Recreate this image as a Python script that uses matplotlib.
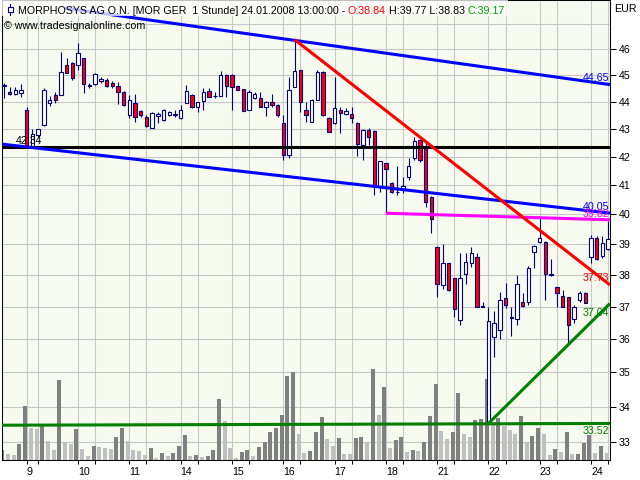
import numpy as np
import matplotlib.pyplot as plt
import matplotlib.transforms as mtransforms
from matplotlib.patches import Rectangle
from matplotlib.lines import Line2D
from matplotlib.ticker import FixedLocator, FixedFormatter, NullLocator, NullFormatter

plt.rcParams['font.family'] = ['Liberation Sans', 'DejaVu Sans']
FS = 7.7

# MorphoSys hourly bars, 08.01.2008 14:00 .. 24.01.2008 13:00 (one line per day)
opens = [44.58, 44.38, 44.30, 44.33,
         43.69, 42.38, 42.78, 43.13, 43.96, 44.25, 44.25, 45.38, 45.47,
         45.38, 45.64, 44.58, 44.66, 44.76, 44.81, 44.71, 44.59, 44.38,
         43.49, 43.94, 43.66, 43.45, 43.02, 43.46, 43.31, 43.52, 43.52,
         43.38, 43.96, 44.25, 43.79, 44.03, 44.40, 44.22, 44.22, 45.00,
         45.00, 44.59, 44.46, 43.71, 44.12, 44.12, 43.79, 44.00, 43.87,
         43.20, 42.06, 44.56, 45.19, 43.69, 43.26, 44.08, 45.13, 43.40,
         43.20, 43.71, 43.53, 43.56, 43.22, 42.41, 42.96, 42.93, 40.95,
         41.76, 41.08, 40.78, 40.86, 41.27, 41.94, 42.60, 42.36, 40.60,
         38.92, 37.69, 38.38, 37.90, 36.59, 38.04, 38.38, 38.60, 37.02,
         33.55, 36.07, 36.27, 37.26, 36.69, 36.61, 37.14, 37.14, 38.74,
         39.09, 39.09, 38.02, 37.61, 37.33, 37.29, 36.61, 37.20, 37.42,
         38.60, 39.20, 38.62, 38.84]
highs = [44.69, 44.56, 44.56, 44.65,
         43.81, 42.98, 43.00, 44.50, 44.21, 44.37, 45.90, 45.64, 45.52,
         46.22, 45.66, 44.71, 45.09, 44.94, 44.88, 44.79, 44.75, 44.40,
         44.25, 44.28, 43.69, 43.50, 43.62, 43.63, 43.72, 43.64, 43.69,
         43.88, 44.62, 44.27, 44.00, 44.50, 44.53, 44.37, 45.16, 45.06,
         45.06, 44.60, 44.48, 44.42, 44.37, 44.37, 44.02, 44.27, 43.90,
         43.50, 44.94, 46.35, 45.20, 44.00, 44.10, 45.19, 45.15, 43.45,
         44.94, 43.79, 43.75, 43.79, 43.26, 42.98, 43.02, 42.96, 41.85,
         41.78, 41.12, 41.67, 41.29, 41.94, 42.72, 42.62, 42.50, 40.62,
         38.95, 39.01, 38.40, 37.92, 38.73, 38.73, 38.92, 38.73, 37.15,
         37.00, 36.87, 37.47, 37.76, 37.00, 38.00, 37.42, 38.30, 38.97,
         39.87, 39.10, 38.51, 37.62, 37.53, 37.30, 37.05, 37.50, 37.45,
         39.31, 39.27, 39.27, 39.77]
lows = [44.12, 44.25, 44.25, 44.18,
        42.31, 42.30, 42.70, 43.10, 43.84, 43.94, 44.25, 45.07, 44.82,
        45.19, 44.34, 44.50, 44.64, 44.69, 44.56, 44.50, 43.90, 43.85,
        43.38, 43.26, 43.45, 43.05, 43.02, 43.20, 43.28, 43.48, 43.45,
        43.36, 43.95, 43.78, 43.63, 43.69, 44.16, 44.12, 44.20, 44.18,
        43.69, 44.42, 43.64, 43.69, 44.10, 43.79, 43.47, 43.79, 43.45,
        41.90, 41.94, 44.54, 43.63, 43.26, 43.24, 44.06, 43.46, 42.88,
        43.18, 42.86, 43.50, 43.22, 42.02, 41.88, 42.42, 40.66, 40.77,
        40.05, 40.73, 40.66, 40.74, 41.18, 41.90, 41.80, 40.26, 39.37,
        37.29, 37.55, 37.50, 36.69, 36.43, 37.72, 38.25, 36.99, 36.98,
        33.52, 35.47, 36.00, 36.96, 36.10, 36.43, 37.00, 37.05, 38.22,
        39.05, 37.20, 37.97, 37.00, 37.00, 35.87, 36.50, 37.15, 37.10,
        38.40, 38.50, 38.54, 38.83]
closes = [44.63, 44.28, 44.42, 44.43,
          42.36, 42.80, 42.98, 44.43, 44.08, 44.06, 45.13, 45.09, 44.88,
          45.83, 44.66, 44.64, 45.03, 44.85, 44.60, 44.59, 44.38, 43.87,
          44.06, 43.45, 43.50, 43.10, 43.58, 43.56, 43.69, 43.60, 43.53,
          43.69, 44.40, 43.81, 43.98, 44.38, 44.18, 44.20, 45.00, 44.60,
          44.54, 44.43, 43.66, 44.38, 44.28, 43.81, 44.00, 43.87, 43.50,
          42.06, 44.43, 45.15, 44.00, 43.50, 44.08, 45.13, 43.50, 42.90,
          43.75, 43.59, 43.66, 43.38, 42.45, 42.96, 42.69, 40.95, 41.85,
          41.55, 40.77, 40.76, 40.97, 41.67, 42.57, 41.88, 40.41, 39.83,
          37.71, 38.38, 37.53, 36.93, 37.90, 38.43, 38.73, 37.00, 37.00,
          36.56, 36.48, 37.20, 37.05, 36.64, 37.71, 37.02, 38.22, 38.95,
          39.22, 38.04, 38.00, 37.42, 37.00, 36.43, 36.98, 37.42, 37.10,
          39.20, 38.51, 39.05, 39.17]
volumes = [10, 6, 5, 16,
           54, 32, 31, 34, 19, 10, 80, 18, 16,
           31, 11, 4, 14, 13, 12, 11, 23, 32,
           19, 10, 9, 5, 12, 2, 7, 4, 7,
           14, 25, 4, 5, 3, 4, 10, 61, 39,
           12, 2, 8, 10, 4, 13, 18, 28, 32,
           45, 84, 88, 26, 7, 9, 28, 43, 21,
           14, 22, 6, 6, 22, 23, 17, 91, 45,
           73, 12, 20, 23, 8, 10, 9, 18, 44,
           76, 29, 21, 28, 67, 26, 23, 40, 41,
           81, 38, 42, 34, 30, 26, 44, 18, 24,
           32, 26, 5, 11, 8, 28, 6, 6.5, 17,
           25, 7, 14, 7]
VOL_TOP = 460  # volume value at the top of the panel

day_labels = ['9', '10', '11', '14', '15', '16', '17', '18', '21', '22', '23', '24']
day_start = [4, 13, 22, 31, 40, 49, 58, 67, 76, 85, 94, 103]
midday = [6, 16, 25, 34, 43, 52, 61, 70, 79, 88, 97, 106]
price_ticks = list(range(33, 47))

# trendlines: anchor points (bar, price)
upper_blue = [(10.7, 47.62), (106, 44.65)]
lower_blue = [(-0.39, 42.45), (106, 40.05)]
red_line = [(51, 46.37), (106, 37.73)]
magenta_line = [(67, 40.04), (106, 39.82)]
black_level = 42.34
green_flat = [(-0.39, 33.47), (106, 33.52)]
green_up = [(85, 33.52), (106, 37.04)]

XL, XR = -0.39, 106.33
BG = '#f7faee'
GRID = '#c8c8c8'
NAVY = '#000080'

fig = plt.figure(figsize=(6.4, 4.8), dpi=100)
ax = fig.add_axes([1.7 / 640, 20 / 480, 608.3 / 640, 460 / 480])
ax.set_facecolor(BG)
ax.set_yscale('log')

# grid
for p in range(33, 48):
    ax.axhline(p, color=GRID, lw=0.8, zorder=0.5)
for d in day_start + midday:
    ax.axvline(d, color=GRID, lw=0.8, zorder=0.5)

x = np.arange(len(closes))

# volume: dark when higher than the bar before
vol = np.array(volumes, float)
prev = np.concatenate([[-1.0], vol[:-1]])
vcol = np.where(vol > prev, '#808080', '#c0c0c0')
ax.vlines(x - 0.28, 0, vol / VOL_TOP, colors=vcol, lw=2.9,
          transform=ax.get_xaxis_transform(), zorder=1, capstyle='butt')

# candles
o = np.array(opens)
c = np.array(closes)
ax.vlines(x, lows, highs, color=NAVY, lw=0.8, zorder=2)
ax.bar(x, np.abs(c - o), bottom=np.minimum(o, c), width=0.6,
       color=np.where(c >= o, 'white', 'red'), edgecolor=NAVY, linewidth=0.8, zorder=3)


def trend(pts, xa, xb):
    (x0, p0), (x1, p1) = pts
    k = np.log(p1 / p0) / (x1 - x0)
    xs = np.array([xa, xb])
    return xs, p0 * np.exp(k * (xs - x0))


lines = [(upper_blue, upper_blue[0][0], 'blue', 'above'),
         (lower_blue, XL, 'blue', 'above'),
         (magenta_line, magenta_line[0][0], 'magenta', 'above'),
         (red_line, red_line[0][0], 'red', 'above'),
         (green_flat, XL, 'green', 'below'),
         (green_up, green_up[0][0], 'green', 'below')]

ax.plot([XL, XR], [black_level, black_level], color='black', lw=2.2, zorder=4)
ax.annotate(f'{black_level:.2f}', (2.1, black_level), xytext=(0, 3),
            textcoords='offset pixels', ha='left', va='baseline', fontsize=FS, zorder=5)

for pts, start, col, side in lines:
    xs, ps = trend(pts, start, XR)
    ax.plot(xs, ps, color=col, lw=2.2, zorder=4, solid_capstyle='butt')
    end_val = pts[1][1]
    if side == 'above':
        ax.annotate(f'{end_val:.2f}', (pts[1][0], end_val), xytext=(1, 3),
                    textcoords='offset pixels', ha='right', va='baseline',
                    color=col, fontsize=FS, zorder=5)
    else:
        ax.annotate(f'{end_val:.2f}', (pts[1][0], end_val), xytext=(1, -3),
                    textcoords='offset pixels', ha='right', va='top',
                    color=col, fontsize=FS, zorder=5)

# axes
ax.set_xlim(XL, XR)
ax.set_ylim(32.5, 47.95)
ax.yaxis.tick_right()
ax.yaxis.set_major_locator(FixedLocator(price_ticks))
ax.yaxis.set_major_formatter(FixedFormatter([str(v) for v in price_ticks]))
ax.yaxis.set_minor_locator(NullLocator())
ax.yaxis.set_minor_formatter(NullFormatter())
ax.tick_params(axis='y', which='major', length=4, width=0.75, pad=2.5, labelsize=FS)
ax.set_xticks(day_start)
ax.set_xticklabels(day_labels, ha='left')
ax.set_xticks(midday, minor=True)
ax.tick_params(axis='x', which='both', length=3, width=0.75, pad=2, labelsize=FS)
for sp in ax.spines.values():
    sp.set_linewidth(0.75)

# header
r = fig.canvas.get_renderer()
ident = mtransforms.IdentityTransform()


def text_width(s):
    t = fig.text(0, 0, s, transform=ident, fontsize=FS)
    w = t.get_window_extent(r).width
    t.remove()
    return w


space_w = text_width('M M') - text_width('MM')
title_parts = [('MORPHOSYS AG O.N. [MOR GER  1 Stunde] 24.01.2008 13:00:00 -', 'black'),
               ('O:38.84', 'red'),
               ('H:39.77 L:38.83', 'black'),
               ('C:39.17', '#00a000')]
xpos = 17.7
for s, col in title_parts:
    t = fig.text(xpos, 466, s, color=col, transform=ident, va='baseline', fontsize=FS, zorder=4)
    xpos = t.get_window_extent(r).x1 + space_w
fig.add_artist(Rectangle((0, 464.5), xpos - space_w + 3, 16, transform=ident,
                         facecolor='white', alpha=0.75, edgecolor='none', zorder=2))
fig.add_artist(Line2D([10.3, 10.3], [465, 476], transform=ident, color=NAVY, lw=0.8, zorder=3))
fig.add_artist(Rectangle((8.3, 467.7), 4.2, 5.6, transform=ident, facecolor='white',
                         edgecolor=NAVY, lw=0.8, zorder=3.5))
fig.text(4, 451, '\u00a9 www.tradesignalonline.com', transform=ident, va='baseline', fontsize=FS)
fig.text(614, 467.5, 'EUR', transform=ident, va='baseline', fontsize=FS)

fig.savefig('out.png', dpi=100, facecolor='white')
